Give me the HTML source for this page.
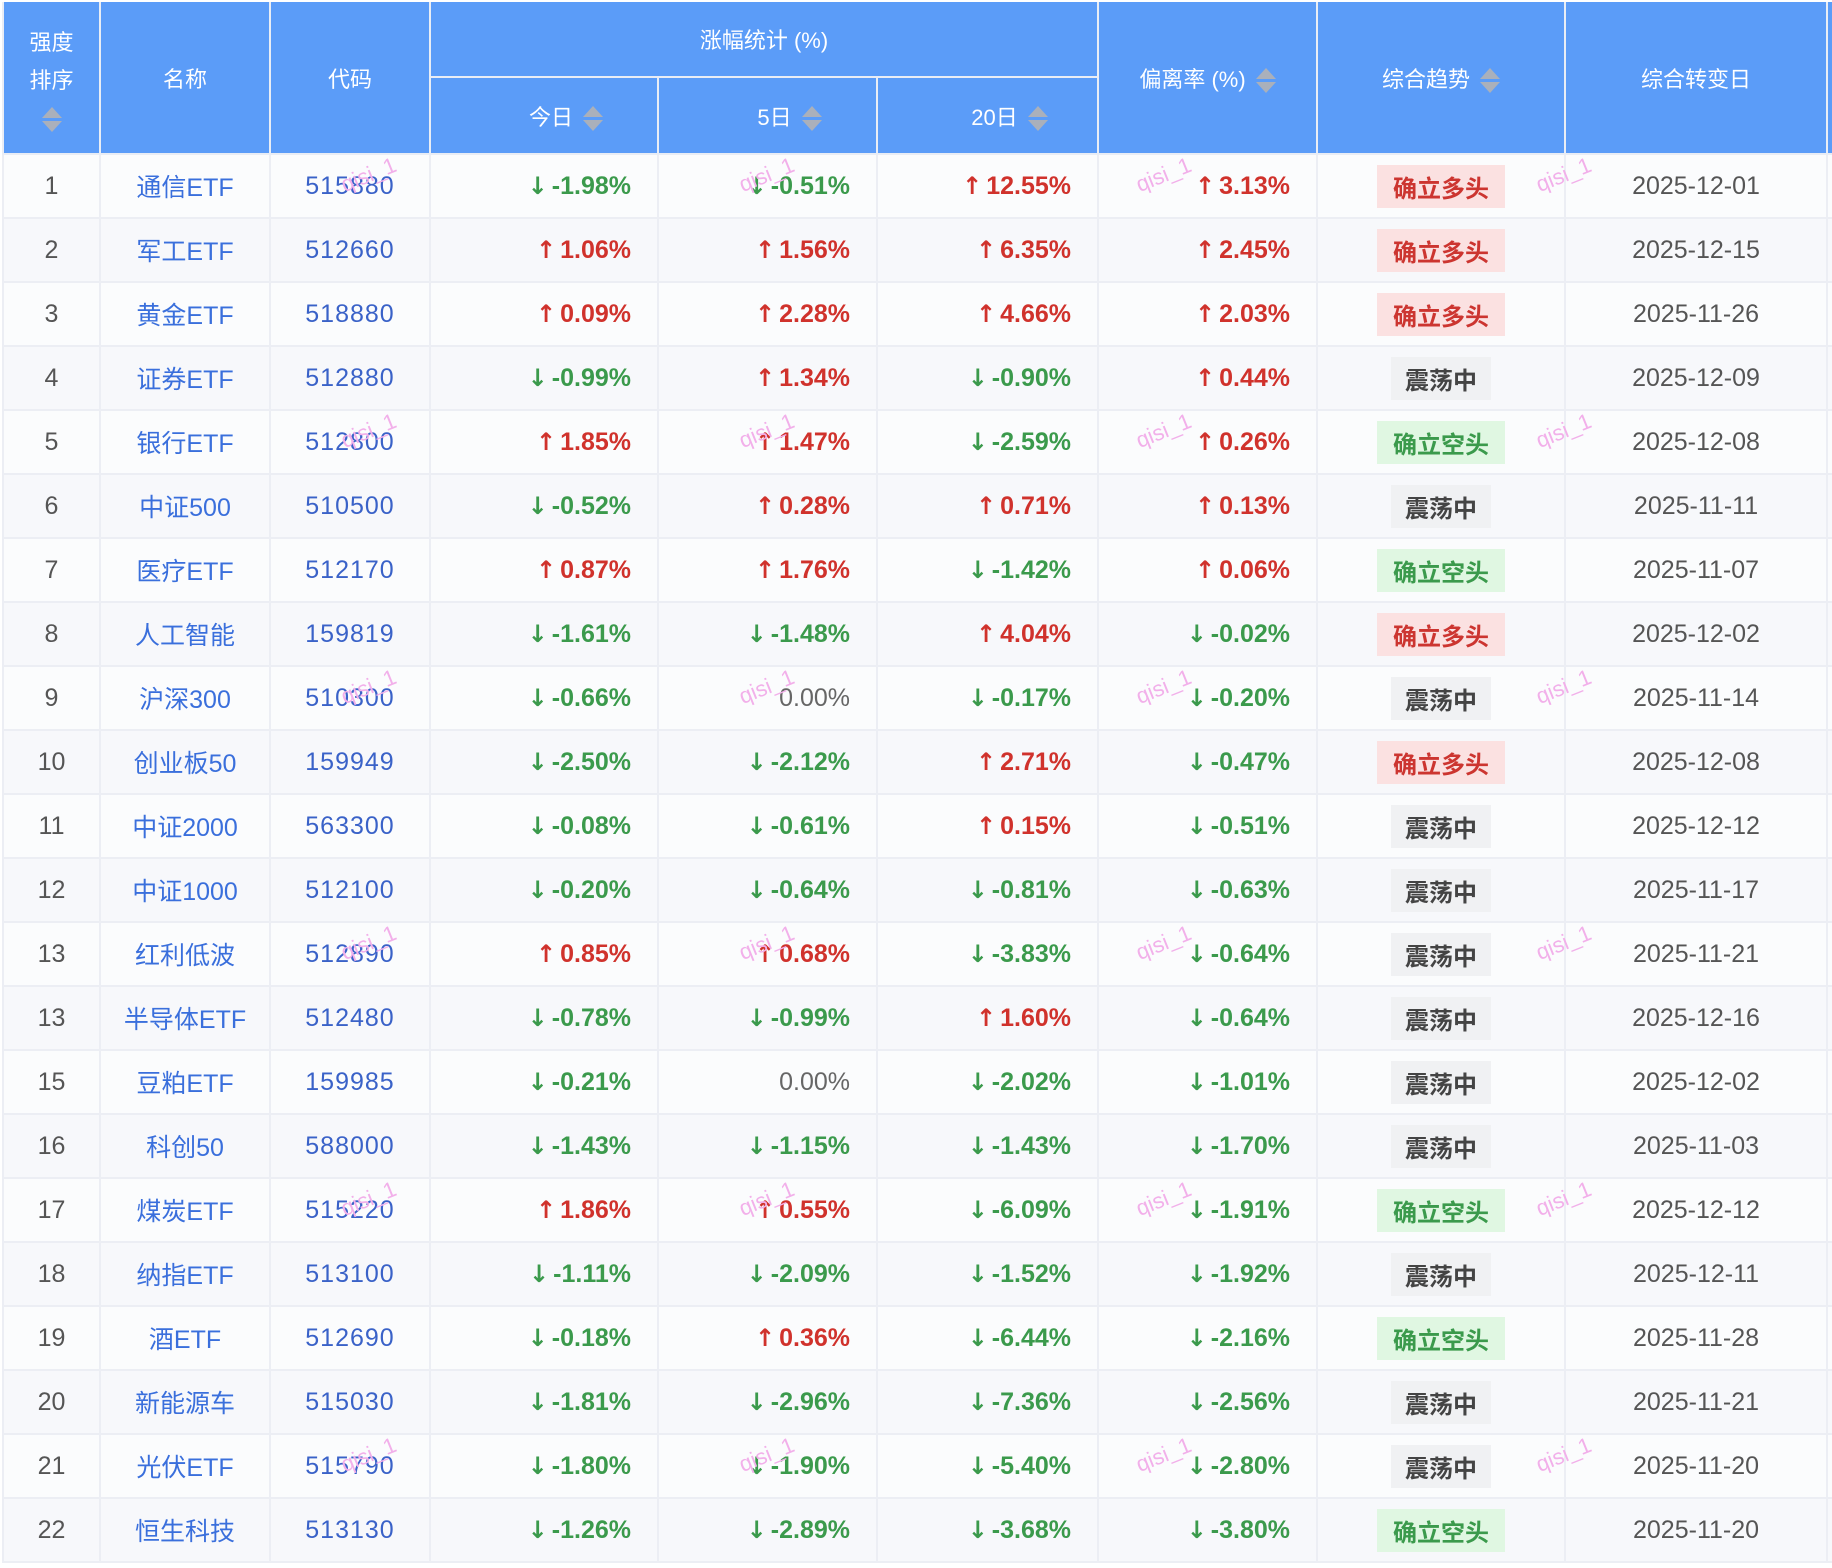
<!DOCTYPE html>
<html><head><meta charset="utf-8"><style>
*{margin:0;padding:0;box-sizing:border-box}
body{width:1832px;height:1568px;background:#fff;font-family:"Liberation Sans","Noto Sans CJK SC",sans-serif;position:relative;overflow:hidden}
table{position:absolute;left:2px;top:2px;border-collapse:collapse;table-layout:fixed;width:1830px}
th{background:#5b9cf8;color:#fff;font-weight:normal;font-size:22px;border:2px solid #e9edf5;border-top:none}
td{height:64px;border:2px solid #eceef4;font-size:25px;white-space:nowrap}
tr.o td{background:#fbfcfd}tr.e td{background:#f7f8fb}
.c{text-align:center}.r{text-align:right;padding-right:26px}
.rk{color:#555}.nm{color:#3a6fdc}.cd{color:#3a62c8;letter-spacing:1px}
.u{color:#d0322c;font-weight:bold}.d{color:#3b9a4c;font-weight:bold}.z{color:#666}
.a{font-family:"DejaVu Sans",sans-serif;font-weight:bold;font-size:24px;margin-right:4px}
.dt{color:#555}
.b{display:inline-block;padding:4px 16px;font-size:24px}
.bl{background:#fbe1e1;color:#cc3530;font-weight:bold}
.bs{background:#e0f7e2;color:#3b9a4c;font-weight:bold}
.bz{background:#f0f1f3;color:#444;font-weight:bold;padding:4px 14px}
.s{display:inline-block;width:20px;vertical-align:middle;margin-left:10px}
.s i{display:block;width:0;height:0;border-left:10px solid transparent;border-right:10px solid transparent}
.s i:first-child{border-bottom:11px solid #aab0bb;margin-bottom:3px}
.s i:last-child{border-top:11px solid #aab0bb}
.w{position:absolute;color:#f2b0ea;font-size:22px;transform:rotate(-22deg);font-family:"Liberation Sans",sans-serif}
</style></head><body>
<table>
<colgroup><col style="width:97px"><col style="width:170px"><col style="width:160px"><col style="width:228px"><col style="width:219px"><col style="width:221px"><col style="width:219px"><col style="width:248px"><col style="width:262px"><col style="width:6px"></colgroup>
<tr style="height:75px"><th rowspan="2" style="line-height:38px;padding-top:6px">强度<br>排序<br><span class="s" style="margin:0"><i></i><i></i></span></th><th rowspan="2">名称</th><th rowspan="2">代码</th><th colspan="3">涨幅统计 (%)</th><th rowspan="2">偏离率 (%)<span class="s"><i></i><i></i></span></th><th rowspan="2">综合趋势<span class="s"><i></i><i></i></span></th><th rowspan="2">综合转变日</th><th rowspan="2"></th></tr>
<tr style="height:77px"><th style="border-top:2px solid #e9edf5">　　今日<span class="s"><i></i><i></i></span></th><th style="border-top:2px solid #e9edf5">　　5日<span class="s"><i></i><i></i></span></th><th style="border-top:2px solid #e9edf5">　　20日<span class="s"><i></i><i></i></span></th></tr>
</table>
<script>
var D=[
[1,"通信ETF","515880","-1.98","-0.51","12.55","3.13","L","2025-12-01"],
[2,"军工ETF","512660","1.06","1.56","6.35","2.45","L","2025-12-15"],
[3,"黄金ETF","518880","0.09","2.28","4.66","2.03","L","2025-11-26"],
[4,"证券ETF","512880","-0.99","1.34","-0.90","0.44","Z","2025-12-09"],
[5,"银行ETF","512800","1.85","1.47","-2.59","0.26","S","2025-12-08"],
[6,"中证500","510500","-0.52","0.28","0.71","0.13","Z","2025-11-11"],
[7,"医疗ETF","512170","0.87","1.76","-1.42","0.06","S","2025-11-07"],
[8,"人工智能","159819","-1.61","-1.48","4.04","-0.02","L","2025-12-02"],
[9,"沪深300","510300","-0.66","0.00","-0.17","-0.20","Z","2025-11-14"],
[10,"创业板50","159949","-2.50","-2.12","2.71","-0.47","L","2025-12-08"],
[11,"中证2000","563300","-0.08","-0.61","0.15","-0.51","Z","2025-12-12"],
[12,"中证1000","512100","-0.20","-0.64","-0.81","-0.63","Z","2025-11-17"],
[13,"红利低波","512890","0.85","0.68","-3.83","-0.64","Z","2025-11-21"],
[13,"半导体ETF","512480","-0.78","-0.99","1.60","-0.64","Z","2025-12-16"],
[15,"豆粕ETF","159985","-0.21","0.00","-2.02","-1.01","Z","2025-12-02"],
[16,"科创50","588000","-1.43","-1.15","-1.43","-1.70","Z","2025-11-03"],
[17,"煤炭ETF","515220","1.86","0.55","-6.09","-1.91","S","2025-12-12"],
[18,"纳指ETF","513100","-1.11","-2.09","-1.52","-1.92","Z","2025-12-11"],
[19,"酒ETF","512690","-0.18","0.36","-6.44","-2.16","S","2025-11-28"],
[20,"新能源车","515030","-1.81","-2.96","-7.36","-2.56","Z","2025-11-21"],
[21,"光伏ETF","515790","-1.80","-1.90","-5.40","-2.80","Z","2025-11-20"],
[22,"恒生科技","513130","-1.26","-2.89","-3.68","-3.80","S","2025-11-20"]];
function v(x){if(x=="0.00")return '<td class="r z">0.00%</td>';if(x[0]=="-")return '<td class="r d"><span class="a">↓</span>'+x+'%</td>';return '<td class="r u"><span class="a">↑</span>'+x+'%</td>';}
var t=document.querySelector("table"),h="";
D.forEach(function(r,i){var b=r[7]=="L"?'<span class="b bl">确立多头</span>':r[7]=="S"?'<span class="b bs">确立空头</span>':'<span class="b bz">震荡中</span>';
h+='<tr class="'+(i%2?'e':'o')+'"><td class="c rk">'+r[0]+'</td><td class="c nm">'+r[1]+'</td><td class="c cd">'+r[2]+'</td>'+v(r[3])+v(r[4])+v(r[5])+v(r[6])+'<td class="c">'+b+'</td><td class="c dt">'+r[8]+'</td><td></td></tr>';});
t.insertAdjacentHTML("beforeend",h);
var wm="";[0,4,8,12,16,20].forEach(function(k){var y=162+k*64;[340,738,1135,1535].forEach(function(x){wm+='<div class="w" style="left:'+x+'px;top:'+(y)+'px">qisi_1</div>';});});
document.body.insertAdjacentHTML("beforeend",wm);
</script>
</body></html>
